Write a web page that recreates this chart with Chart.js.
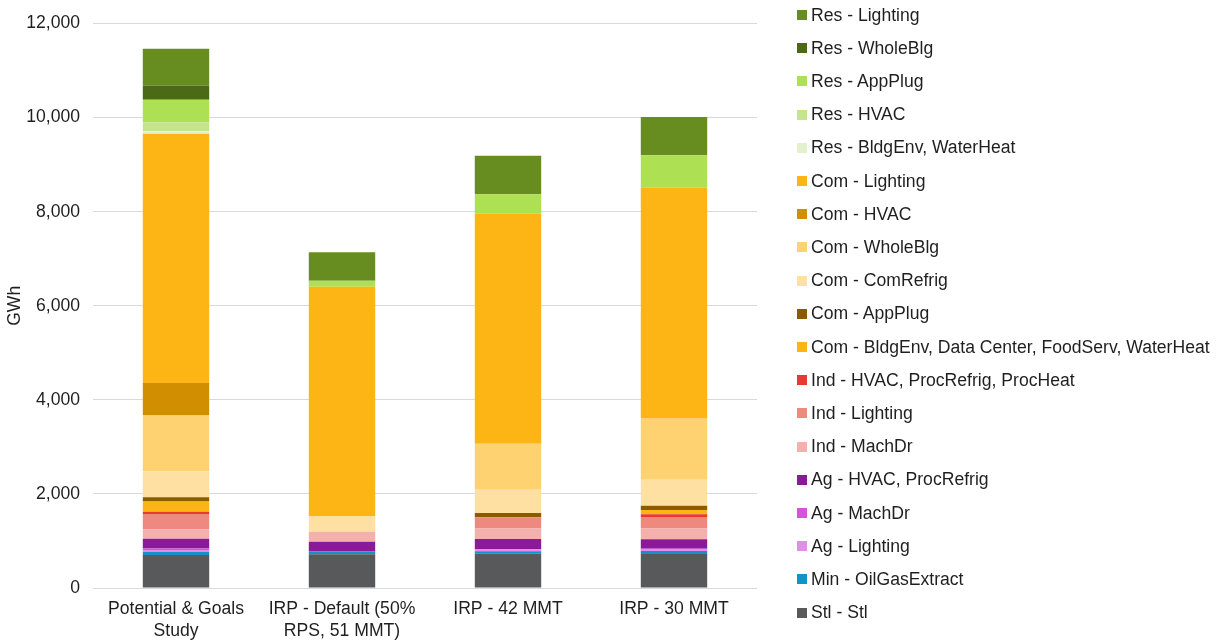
<!DOCTYPE html>
<html>
<head>
<meta charset="utf-8">
<script src="https://cdn.jsdelivr.net/npm/chart.js@4.4.1/dist/chart.umd.min.js"></script>
<style>
  html, body { margin: 0; padding: 0; background: #fff; }
  #wrap { position: relative; width: 1226px; height: 641px; }
  #c { position: absolute; left: 0; top: 0; }
  #legend { position: absolute; left: 797px; top: 0; font-family: "Liberation Sans", Arial, sans-serif; font-size: 17.6px; color: #1f1f1f; }
  .li { position: absolute; left: 0; height: 22px; white-space: nowrap; display: flex; align-items: center; }
  .sw { width: 10px; height: 10px; margin-right: 4px; flex: none; }
</style>
</head>
<body>
<div id="wrap">
  <canvas id="c" width="1226" height="641"></canvas>
  <div id="legend"></div>
</div>
<script>
// Categories (x-axis), multi-line labels
const categories = [
  ["Potential & Goals", "Study"],
  ["IRP - Default (50%", "RPS, 51 MMT)"],
  "IRP - 42 MMT",
  "IRP - 30 MMT"
];

// Series names in stacking order (bottom to top)
const seriesNames = [
  "Stl - Stl",
  "Min - OilGasExtract",
  "Ag - Lighting",
  "Ag - MachDr",
  "Ag - HVAC, ProcRefrig",
  "Ind - MachDr",
  "Ind - Lighting",
  "Ind - HVAC, ProcRefrig, ProcHeat",
  "Com - BldgEnv, Data Center, FoodServ, WaterHeat",
  "Com - AppPlug",
  "Com - ComRefrig",
  "Com - WholeBlg",
  "Com - HVAC",
  "Com - Lighting",
  "Res - BldgEnv, WaterHeat",
  "Res - HVAC",
  "Res - AppPlug",
  "Res - WholeBlg",
  "Res - Lighting"
];

// Series values (GWh) per category
const stl          = [700, 720, 730, 725];
const minOilGas    = [70, 60, 50, 64];
const agLighting   = [40, 0, 50, 43];
const agMachDr     = [30, 0, 0, 0];
const agHvac       = [205, 205, 213, 206];
const indMachDr    = [205, 210, 220, 225];
const indLighting  = [325, 0, 240, 249];
const indHvac      = [45, 0, 0, 57];
const comBldgEnv   = [220, 0, 0, 91];
const comAppPlug   = [90, 0, 92, 91];
const comRefrig    = [550, 335, 495, 553];
const comWholeBlg  = [1185, 0, 978, 1311];
const comHvac      = [695, 0, 0, 0];
const comLighting  = [5300, 4875, 4890, 4895];
const resBldgEnv   = [50, 0, 0, 0];
const resHvac      = [190, 0, 0, 0];
const resAppPlug   = [480, 128, 412, 689];
const resWholeBlg  = [305, 0, 0, 0];
const resLighting  = [780, 605, 820, 814];

const seriesValues = [
  stl, minOilGas, agLighting, agMachDr, agHvac, indMachDr, indLighting, indHvac,
  comBldgEnv, comAppPlug, comRefrig, comWholeBlg, comHvac, comLighting,
  resBldgEnv, resHvac, resAppPlug, resWholeBlg, resLighting
];

const seriesColors = [
  "#58595B", "#1591C9", "#E38CE8", "#D94FE0", "#8B1A9A", "#F4B0AC", "#EE8980", "#E63B2E",
  "#FDB515", "#8A5C00", "#FFE0A3", "#FFD271", "#D18F00", "#FDB515",
  "#E3F2CC", "#C5E58A", "#ADE052", "#4C6A15", "#678C1F"
];

// Y-axis ticks
const yMin = 0, yMax = 12000, yStep = 2000;
const yTitle = "GWh";

const FONT = "'Liberation Sans', Arial, sans-serif";
const FS = 17.6;

const datasets = seriesNames.map((name, i) => ({
  label: name,
  data: seriesValues[i],
  backgroundColor: seriesColors[i],
  borderWidth: 0,
  categoryPercentage: 1.0,
  barPercentage: 0.4
}));

new Chart(document.getElementById("c"), {
  type: "bar",
  data: { labels: categories, datasets },
  options: {
    responsive: false,
    animation: false,
    layout: { padding: { left: 0, right: 469, top: 23, bottom: 0 } },
    plugins: { legend: { display: false }, tooltip: { enabled: false } },
    scales: {
      x: {
        stacked: true,
        grid: { display: false, drawTicks: false },
        border: { display: false },
        ticks: { color: "#1f1f1f", font: { family: FONT, size: FS, lineHeight: 1.24 }, padding: 10, maxRotation: 0, autoSkip: false },
        afterFit: (s) => { s.height = 53; }
      },
      y: {
        stacked: true,
        min: yMin, max: yMax,
        grid: { color: "#D9D9D9", lineWidth: 1, drawTicks: false },
        border: { display: false },
        ticks: {
          stepSize: yStep, color: "#1f1f1f", padding: 13,
          font: { family: FONT, size: FS },
          callback: (v) => v.toLocaleString("en-US")
        },
        title: { display: true, text: yTitle, color: "#1f1f1f", font: { family: FONT, size: FS }, padding: { top: 5, bottom: 0 } },
        afterFit: (s) => { s.width = 93; }
      }
    }
  }
});

// Legend (reverse order, top = last series)
const legendEl = document.getElementById("legend");
const order = seriesNames.map((_, i) => i).reverse();
order.forEach((idx, row) => {
  const d = document.createElement("div");
  d.className = "li";
  d.style.top = (15 + row * 33.2 - 11) + "px";
  const sw = document.createElement("span");
  sw.className = "sw";
  sw.style.background = seriesColors[idx];
  const t = document.createElement("span");
  t.textContent = seriesNames[idx];
  d.appendChild(sw); d.appendChild(t);
  legendEl.appendChild(d);
});
</script>
</body>
</html>
